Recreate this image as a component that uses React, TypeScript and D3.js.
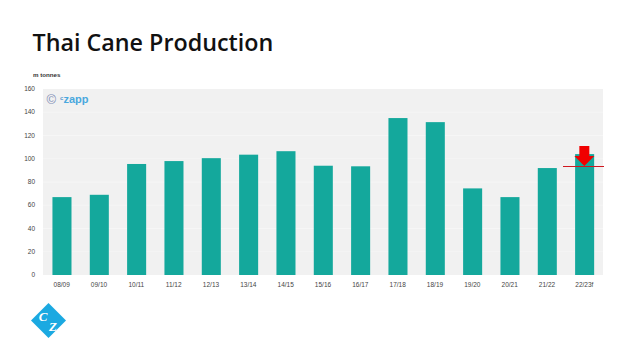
import React from "react";
import * as d3 from "d3";

const categories = ["08/09","09/10","10/11","11/12","12/13","13/14","14/15","15/16","16/17","17/18","18/19","19/20","20/21","21/22","22/23f"];
const production = [67,69,95.5,98,100.5,103.5,106.5,94,93.5,135,131.5,74.5,67,92,104];
const yTicks = [0,20,40,60,80,100,120,140,160];
const forecastLine = 94;
const title = "Thai Cane Production";
const unit = "m tonnes";

const W = 629, H = 353;
const x = d3.scaleBand<string>().domain(categories).range([43, 603]).paddingInner(0.49).paddingOuter(0.245);
const y = d3.scaleLinear().domain([0, 160]).range([275, 89]);
const grey = "#444";
const font = "Liberation Sans, Arial, sans-serif";

export default function App() {
  const lastX = (x(categories[categories.length - 1]) as number) + x.bandwidth() / 2;
  const lineY = Math.round(y(forecastLine)) + 0.5;
  return (
    <svg width={W} height={H} viewBox={`0 0 ${W} ${H}`} style={{ position: "absolute", left: 0, top: 0, background: "#fff" }}>
      <text x={32.5} y={50.5} fontFamily="Open Sans, sans-serif" fontWeight={600} fontSize={23.3} fill="#111">{title}</text>
      <text x={33} y={76.5} fontFamily={font} fontWeight={700} fontSize={6.2} fill="#333">{unit}</text>
      <rect x={43} y={89} width={560} height={186} fill="#f1f1f1" />
      {yTicks.filter(t => t > 0 && t < 160).map(t => (
        <line key={t} x1={43} x2={603} y1={y(t)} y2={y(t)} stroke="#f8f8f8" strokeWidth={0.7} />
      ))}
      {yTicks.map(t => (
        <text key={t} x={35} y={y(t) + 2} textAnchor="end" fontFamily={font} fontSize={6.5} fill={grey}>{t}</text>
      ))}
      {categories.map((c, i) => (
        <rect key={c} x={(x(c) as number) + 0.3} y={y(production[i])} width={x.bandwidth()} height={y(0) - y(production[i])} fill="#14a89c" />
      ))}
      {categories.map(c => (
        <text key={c} x={(x(c) as number) + x.bandwidth() / 2} y={287} textAnchor="middle" fontFamily={font} fontSize={6.5} fill={grey}>{c}</text>
      ))}
      <text x={46.5} y={104} fontFamily={font} fontSize={13} fill="#7f8fb5">©</text>
      <text x={60} y={100} fontFamily={font} fontSize={6} fontWeight={700} fill="#5a9bd0">c</text>
      <text x={63.5} y={103} fontFamily={font} fontSize={11} fontWeight={700} fill="#4aa8de">zapp</text>
      <line x1={563} x2={604} y1={lineY} y2={lineY} stroke="#d0181f" strokeWidth={1} />
      <path d={`M${lastX - 5},146 h10 v10 h5 l-10,10 l-10,-10 h5 z`} fill="#f00000" />
      <g transform="translate(48.5,320.5)">
        <path d="M0,-17.5 L17.5,0 L0,17.5 L-17.5,0 Z" fill="#1ba9e1" />
        <text x={-5.5} y={0} textAnchor="middle" fontFamily="Liberation Serif, serif" fontStyle="italic" fontWeight={700} fontSize={13} fill="#fff">C</text>
        <text x={4.5} y={10} textAnchor="middle" fontFamily="Liberation Serif, serif" fontStyle="italic" fontWeight={700} fontSize={13} fill="#fff">Z</text>
      </g>
    </svg>
  );
}
